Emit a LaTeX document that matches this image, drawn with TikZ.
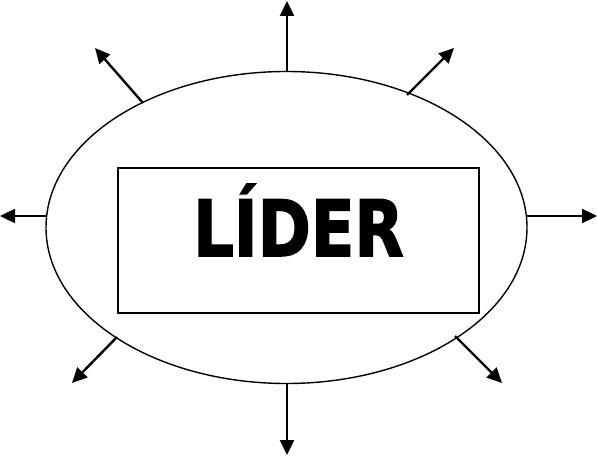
\documentclass[tikz,border=0pt]{standalone}
\usepackage{fontspec}
\setmainfont{DejaVu Sans}[BoldFeatures={FakeBold=2}]
\usepackage{tikz}
\usetikzlibrary{arrows.meta, shapes.geometric, positioning}

\begin{document}
\begin{tikzpicture}[x=1pt, y=-1pt,
    outarrow/.style={line width=2.4pt, -{Triangle[length=15pt, width=14pt]}},
    leaderbox/.style={draw, line width=1.6pt, minimum width=361pt, minimum height=145pt, inner sep=0pt}]
      \useasboundingbox (0,0) rectangle (597,457);
      \node[ellipse, draw, line width=1.4pt, minimum width=481pt, minimum height=312pt, inner sep=0pt] (oval) at (286.5, 227.5) {};
      \node[leaderbox] (box) at (298.5, 240.5) {};
      \node[inner sep=0pt, xscale=0.82] (word) at (298.5, 220) {\fontsize{78}{78}\selectfont\bfseries LÍDER};
      % tails on the oval, tips outside
      \foreach \name/\tail/\tip in {n/{287,72}/{287,1}, s/{287,383}/{287,455},
          w/{46,216}/{0,216}, e/{526,216}/{597,216},
          nw/{143,103}/{95,48}, ne/{407,95}/{454,48},
          sw/{117,337}/{72,383}, se/{455,336}/{502,383}}{
        \coordinate (t-\name) at (\tail);
        \coordinate (h-\name) at (\tip);
        \draw[outarrow] (t-\name) -- (h-\name);
      }
    \end{tikzpicture}
\end{document}
